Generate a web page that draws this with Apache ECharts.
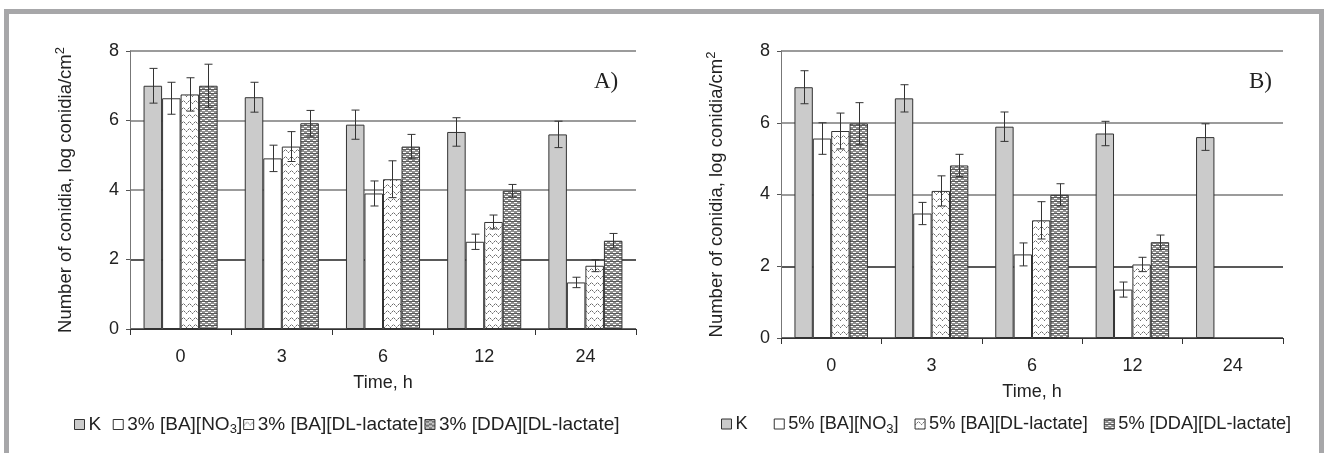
<!DOCTYPE html>
<html>
<head>
<meta charset="utf-8">
<script src="https://cdn.jsdelivr.net/npm/echarts@6/dist/echarts.min.js"></script>
<style>
html,body{margin:0;padding:0;background:#fff;}
#chart{width:1326px;height:453px;}
</style>
</head>
<body>
<div id="chart"></div>
<script>
// ---- data ----
const categories = ['0', '3', '6', '12', '24'];
const yTicks = [0, 2, 4, 6, 8];
const namesA = ['K', '3% [BA][NO3]', '3% [BA][DL-lactate]', '3% [DDA][DL-lactate]'];
const namesB = ['K', '5% [BA][NO3]', '5% [BA][DL-lactate]', '5% [DDA][DL-lactate]'];

const aK     = [7.00, 6.67, 5.88, 5.67, 5.60];
const aKErr  = [0.50, 0.43, 0.42, 0.41, 0.38];
const aNO3   = [6.64, 4.91, 3.90, 2.51, 1.34];
const aNO3Err= [0.46, 0.38, 0.36, 0.22, 0.15];
const aBA    = [6.75, 5.25, 4.31, 3.08, 1.82];
const aBAErr = [0.48, 0.43, 0.53, 0.20, 0.17];
const aDDA   = [7.00, 5.92, 5.25, 3.98, 2.54];
const aDDAErr= [0.62, 0.37, 0.35, 0.18, 0.21];

const bK     = [6.99, 6.68, 5.89, 5.70, 5.60];
const bKErr  = [0.46, 0.38, 0.41, 0.34, 0.37];
const bNO3   = [5.56, 3.47, 2.33, 1.35, null];
const bNO3Err= [0.44, 0.31, 0.32, 0.21, null];
const bBA    = [5.77, 4.10, 3.28, 2.05, null];
const bBAErr = [0.50, 0.42, 0.52, 0.20, null];
const bDDA   = [5.98, 4.81, 3.99, 2.67, null];
const bDDAErr= [0.58, 0.31, 0.31, 0.20, null];

// ---- patterns ----
function makeZigzag() {
  const c = document.createElement('canvas');
  c.width = 6; c.height = 7;
  const g = c.getContext('2d');
  g.fillStyle = '#ffffff'; g.fillRect(0, 0, 6, 7);
  const pts = [[0,5],[1,4],[2,3],[3,2],[4,3],[5,4]];
  pts.forEach((p, i) => { g.fillStyle = i % 2 ? '#b4b4b4' : '#6a6a6a'; g.fillRect(p[0], p[1], 1, 1); });
  return c;
}
function makeBrick() {
  const c = document.createElement('canvas');
  c.width = 6; c.height = 4;
  const g = c.getContext('2d');
  g.fillStyle = '#8e8e8e'; g.fillRect(0, 0, 6, 4);
  g.fillStyle = '#ffffff';
  g.fillRect(1, 0, 3, 1);
  g.fillRect(4, 2, 2, 1); g.fillRect(0, 2, 1, 1);
  g.fillStyle = '#5a5a5a';
  g.fillRect(0, 1, 6, 1);
  return c;
}
const zigzag = { image: makeZigzag(), repeat: 'repeat' };
const brick = { image: makeBrick(), repeat: 'repeat' };

const styles = [
  { color: '#cbcbcb', borderColor: '#333', borderWidth: 1 },
  { color: '#ffffff', borderColor: '#333', borderWidth: 1 },
  { color: zigzag, borderColor: '#333', borderWidth: 1 },
  { color: brick, borderColor: '#333', borderWidth: 1 }
];

const BARFRAC = 0.183;

function barSeries(name, data, idx, axis) {
  return {
    type: 'bar', name: name, data: data,
    xAxisIndex: axis, yAxisIndex: axis,
    barWidth: (BARFRAC * 100) + '%', barGap: '0%',
    itemStyle: styles[idx], emphasis: { disabled: true },
    animation: false, z: 2
  };
}

function errSeries(vals, errs, axis) {
  const data = [];
  for (let s = 0; s < vals.length; s++) {
    for (let i = 0; i < categories.length; i++) {
      if (vals[s][i] != null) data.push([i, s, vals[s][i], errs[s][i]]);
    }
  }
  return {
    type: 'custom', xAxisIndex: axis, yAxisIndex: axis, data: data,
    encode: { x: 0, y: 2 }, z: 5, animation: false, silent: true,
    renderItem: function (params, api) {
      const ci = api.value(0), slot = api.value(1), v = api.value(2), e = api.value(3);
      const bw = api.size([1, 0])[0] * BARFRAC;
      const c = api.coord([ci, v]);
      const x = Math.round(c[0] + (slot - 1.5) * bw) + 0.5;
      const yt = api.coord([ci, v + e])[1];
      const yb = api.coord([ci, v - e])[1];
      const st = { stroke: '#333', lineWidth: 1 };
      return {
        type: 'group', children: [
          { type: 'line', shape: { x1: x, y1: yt, x2: x, y2: yb }, style: st },
          { type: 'line', shape: { x1: x - 4, y1: yt, x2: x + 4, y2: yt }, style: st },
          { type: 'line', shape: { x1: x - 4, y1: yb, x2: x + 4, y2: yb }, style: st }
        ]
      };
    }
  };
}

const font = 'Liberation Sans, Arial, sans-serif';
const FS = 18;

function xAxis(gi) {
  return {
    type: 'category', gridIndex: gi, data: categories,
    name: 'Time, h', nameLocation: 'middle', nameGap: 45,
    nameTextStyle: { fontFamily: font, fontSize: FS, color: '#222' },
    axisLine: { lineStyle: { color: '#333', width: 1 } },
    axisTick: { show: true, length: 6, lineStyle: { color: '#333' } },
    axisLabel: { fontFamily: font, fontSize: FS, color: '#222', margin: 19 },
    splitLine: { show: false }
  };
}
function yAxis(gi) {
  return {
    type: 'value', gridIndex: gi, min: 0, max: 8, interval: 2,
    name: 'Number of conidia, log conidia/cm{sup|2}', nameLocation: 'middle', nameGap: 53,
    nameTextStyle: { fontFamily: font, fontSize: 18.5, color: '#222',
      rich: { sup: { fontFamily: font, fontSize: 13, color: '#222', padding: [0, 0, 10, 0] } } },
    axisLine: { show: true, lineStyle: { color: '#777', width: 1 } },
    axisTick: { show: true, length: 4, lineStyle: { color: '#555' } },
    axisLabel: { fontFamily: font, fontSize: FS, color: '#222', margin: 11,
      formatter: v => yTicks.includes(v) ? String(v) : '' },
    splitLine: { show: true, lineStyle: { color: ['#333', '#222', '#7a7a7a', '#7a7a7a', '#7a7a7a'], width: 1.5 } }
  };
}

function legend(names, left, gap, kPad, fs) {
  return {
    data: names, left: left, top: 410, orient: 'horizontal',
    icon: 'rect', itemWidth: 10, itemHeight: 10, itemGap: gap,
    selectedMode: false,
    formatter: n => n === 'K' ? 'K' + kPad : n.replace('NO3', 'NO{sub|3}'),
    textStyle: { fontFamily: font, fontSize: fs, color: '#222', padding: [0, 0, 0, -1],
      rich: { sub: { fontFamily: font, fontSize: 13, color: '#222', padding: [10, 0, 0, 0] } } },
    itemStyle: { borderColor: '#333', borderWidth: 1 }
  };
}

const chart = echarts.init(document.getElementById('chart'), null, { renderer: 'canvas' });
chart.setOption({
  backgroundColor: '#ffffff',
  animation: false,
  grid: [
    { left: 130, right: 690, top: 51, bottom: 124 },
    { left: 781, right: 43, top: 51, bottom: 115 }
  ],
  xAxis: [xAxis(0), xAxis(1)],
  yAxis: [yAxis(0), yAxis(1)],
  legend: [legend(namesA, 69, 1, '  ', 19.0), legend(namesB, 716, 16, '  ', 18.2)],
  graphic: [
    { type: 'rect', silent: true, shape: { x: 6.5, y: 11.5, width: 1315, height: 520 },
      style: { fill: null, stroke: '#a7a7a9', lineWidth: 5 } },
    { type: 'text', left: 594, top: 70, silent: true,
      style: { text: 'A)', font: '23px "Liberation Serif", "Times New Roman", serif', fill: '#222' } },
    { type: 'text', left: 1249, top: 70, silent: true,
      style: { text: 'B)', font: '23px "Liberation Serif", "Times New Roman", serif', fill: '#222' } }
  ],
  series: [
    barSeries(namesA[0], aK, 0, 0),
    barSeries(namesA[1], aNO3, 1, 0),
    barSeries(namesA[2], aBA, 2, 0),
    barSeries(namesA[3], aDDA, 3, 0),
    errSeries([aK, aNO3, aBA, aDDA], [aKErr, aNO3Err, aBAErr, aDDAErr], 0),
    barSeries(namesB[0], bK, 0, 1),
    barSeries(namesB[1], bNO3, 1, 1),
    barSeries(namesB[2], bBA, 2, 1),
    barSeries(namesB[3], bDDA, 3, 1),
    errSeries([bK, bNO3, bBA, bDDA], [bKErr, bNO3Err, bBAErr, bDDAErr], 1)
  ]
});
</script>
</body>
</html>
